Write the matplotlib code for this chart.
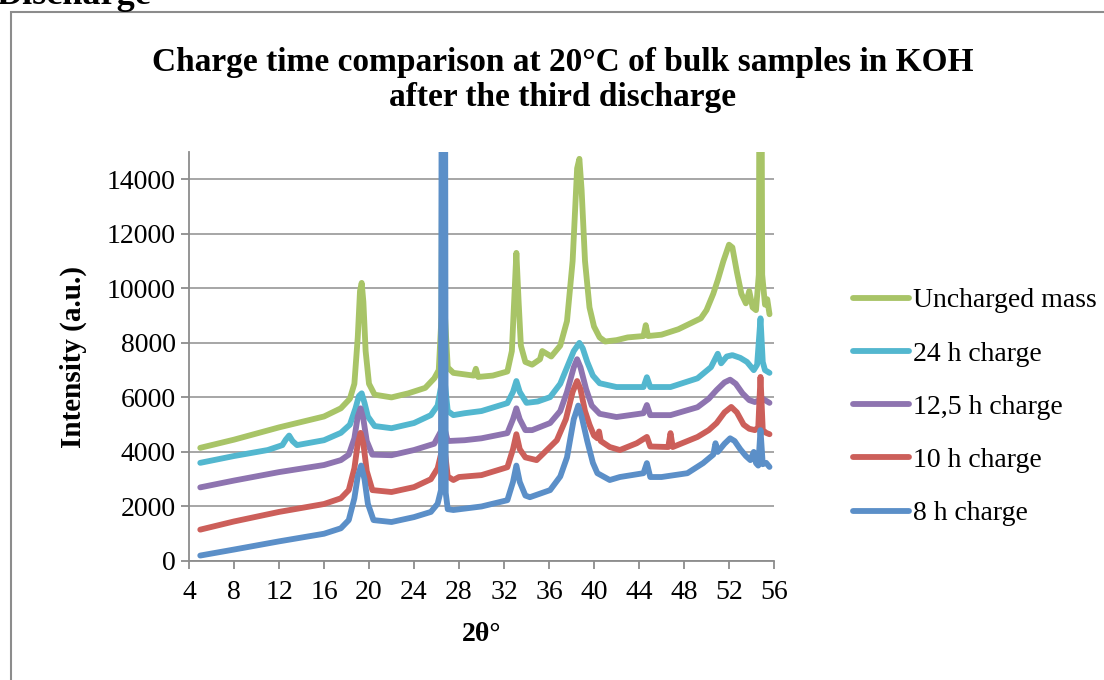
import numpy as np
import matplotlib
matplotlib.use("Agg")
import matplotlib.pyplot as plt
from matplotlib.patches import Rectangle

# 2theta positions / intensities (hand picked points)
x_unch = [5, 8, 12, 16, 17.5, 18.3, 18.7, 19.0, 19.2, 19.35, 19.5, 19.7, 20.0, 20.5, 22, 23.5, 25, 25.8, 26.2, 26.45, 26.6, 26.75, 27.0, 27.5, 29.3, 29.5, 29.7, 31, 32.3, 32.7, 32.9, 33.1, 33.3, 33.5, 33.9, 34.5, 35.2, 35.4, 36.2, 37.0, 37.6, 38.1, 38.5, 38.7, 38.9, 39.2, 39.6, 40.0, 40.5, 41, 42, 43, 44.4, 44.6, 44.8, 46, 47.5, 48.5, 49.5, 50.0, 50.6, 51.0, 51.5, 52.0, 52.3, 52.7, 53.1, 53.5, 53.8, 54.1, 54.4, 54.65, 54.8, 54.95, 55.2, 55.4, 55.6]
y_unch = [4150, 4450, 4900, 5300, 5600, 5950, 6500, 8200, 9900, 10200, 9500, 7700, 6500, 6100, 6000, 6150, 6350, 6700, 7000, 9000, 30000, 9000, 7100, 6900, 6800, 7050, 6750, 6800, 6950, 7700, 9500, 11300, 9500, 7900, 7300, 7200, 7400, 7700, 7500, 7900, 8800, 11000, 14400, 14750, 13600, 11000, 9300, 8600, 8200, 8050, 8100, 8200, 8250, 8650, 8250, 8300, 8500, 8700, 8900, 9200, 9800, 10300, 11000, 11600, 11500, 10600, 9800, 9450, 9900, 9300, 9200, 10500, 30000, 10500, 9400, 9600, 9050]

x_24h = [5, 8, 11, 12.3, 12.6, 12.9, 13.2, 13.6, 16, 17.5, 18.3, 18.8, 19.1, 19.35, 19.6, 19.9, 20.5, 22, 24, 25.5, 26.1, 26.45, 26.6, 26.75, 27.0, 27.5, 28.5, 30, 32.3, 32.8, 33.1, 33.4, 34.0, 35, 36.1, 37.0, 37.6, 38.2, 38.7, 39.0, 39.4, 39.9, 40.5, 42, 44.4, 44.7, 45.0, 46.8, 49.2, 50.4, 51.0, 51.3, 51.8, 52.3, 53, 53.6, 54.2, 54.5, 54.8, 55.0, 55.2, 55.6]
y_24h = [3600, 3850, 4070, 4250, 4450, 4600, 4400, 4250, 4430, 4700, 5000, 5600, 6050, 6150, 5800, 5300, 4950, 4870, 5060, 5350, 5700, 6500, 30000, 6500, 5500, 5350, 5420, 5500, 5790, 6200, 6600, 6200, 5800, 5850, 6010, 6500, 7100, 7700, 8000, 7800, 7300, 6800, 6520, 6380, 6380, 6740, 6380, 6380, 6700, 7110, 7600, 7250, 7500, 7550, 7450, 7300, 7000, 7200, 8900, 7300, 7000, 6900]

x_125h = [5, 8, 12, 16, 17.5, 18.2, 18.7, 19.0, 19.25, 19.5, 19.8, 20.3, 22, 24, 25.8, 26.45, 26.6, 26.75, 27.0, 28.5, 30, 32.3, 32.8, 33.1, 33.4, 33.9, 34.5, 36.1, 37.0, 37.6, 38.2, 38.5, 38.8, 39.3, 39.8, 40.5, 42.0, 44.4, 44.7, 45.0, 46.8, 49.2, 50.2, 50.9, 51.6, 52.1, 52.6, 53.2, 53.8, 54.3, 55.0, 55.6]
y_125h = [2700, 2950, 3260, 3520, 3700, 3900, 4500, 5300, 5600, 5200, 4400, 3900, 3880, 4070, 4300, 4800, 30000, 4800, 4400, 4430, 4500, 4690, 5200, 5600, 5200, 4800, 4800, 5060, 5500, 6200, 7100, 7400, 7100, 6300, 5700, 5400, 5280, 5420, 5720, 5350, 5350, 5640, 5950, 6270, 6550, 6650, 6500, 6150, 5900, 5830, 5950, 5800]

x_10h = [5, 8, 12, 16, 17.5, 18.2, 18.7, 19.0, 19.25, 19.5, 19.8, 20.3, 22, 24, 25.5, 26.1, 26.45, 26.6, 26.75, 27.0, 27.5, 28, 30, 32.3, 32.8, 33.1, 33.4, 33.9, 34.9, 36.7, 37.5, 38.1, 38.5, 38.8, 39.2, 39.6, 40.0, 40.3, 40.45, 40.6, 41.4, 42.3, 43.8, 44.7, 45.0, 46.6, 46.8, 47.0, 49.2, 50.2, 50.9, 51.6, 52.2, 52.7, 53.3, 53.8, 54.3, 54.6, 54.8, 55.0, 55.3, 55.6]
y_10h = [1150, 1450, 1800, 2090, 2300, 2600, 3400, 4300, 4700, 4300, 3300, 2600, 2530, 2710, 3000, 3400, 4000, 30000, 4000, 3100, 2970, 3080, 3150, 3440, 4100, 4650, 4100, 3800, 3700, 4430, 5200, 6200, 6600, 6300, 5500, 5000, 4600, 4500, 4750, 4400, 4180, 4070, 4320, 4550, 4200, 4180, 4690, 4180, 4550, 4800, 5060, 5450, 5650, 5450, 5000, 4850, 4800, 4900, 6750, 4800, 4700, 4650]

x_8h = [5, 8, 12, 16, 17.5, 18.2, 18.7, 19.0, 19.3, 19.6, 19.9, 20.4, 22, 24, 25.5, 26.1, 26.4, 26.5, 26.72, 26.82, 27.0, 27.5, 30, 32.3, 32.8, 33.1, 33.4, 33.9, 34.3, 36.1, 37.0, 37.6, 38.2, 38.6, 38.9, 39.4, 39.9, 40.3, 41.4, 42.3, 44.4, 44.7, 45.0, 46, 48.3, 49.7, 50.6, 50.8, 51.0, 51.6, 52.1, 52.5, 53.0, 53.5, 53.9, 54.2, 54.4, 54.6, 54.8, 55.0, 55.3, 55.6]
y_8h = [200, 420, 720, 1000, 1200, 1500, 2300, 3100, 3500, 3000, 2100, 1500, 1430, 1610, 1800, 2100, 2600, 30000, 30000, 2500, 1900, 1870, 2000, 2230, 2900, 3500, 2900, 2400, 2340, 2600, 3100, 3800, 5200, 5700, 5300, 4400, 3600, 3220, 2970, 3080, 3220, 3590, 3080, 3080, 3220, 3590, 3900, 4320, 4000, 4300, 4500, 4400, 4100, 3850, 3700, 4000, 3590, 3500, 4800, 3550, 3600, 3450]

labels = ["Uncharged mass", "24 h charge", "12,5 h charge", "10 h charge", "8 h charge"]
colors = ["#a8c467", "#53b7cf", "#8e74b0", "#cc5f5a", "#5b8fc8"]
xticks = list(range(4, 57, 4))
yticks = list(range(0, 14001, 2000))

serif = ["Liberation Serif", "DejaVu Serif"]
plt.rcParams["font.family"] = serif

fig = plt.figure(figsize=(11.04, 6.8), dpi=100)
ax = fig.add_axes([189 / 1104, 1 - 561 / 680, (774 - 189) / 1104, (561 - 152) / 680])

series = [(x_unch, y_unch), (x_24h, y_24h), (x_125h, y_125h), (x_10h, y_10h), (x_8h, y_8h)]
handles = []
for (xs, ys), lab, c in zip(series, labels, colors):
    h, = ax.plot(xs, ys, color=c, lw=4.2, solid_capstyle="round", solid_joinstyle="round", label=lab)
    handles.append(h)

ax.set_xlim(4, 56)
ax.set_ylim(0, 15000)
ax.set_xticks(xticks)
ax.set_yticks(yticks)
ax.tick_params(axis="both", labelsize=20, colors="#8c8c8c", labelcolor="black", length=6, width=1.3)
ax.tick_params(axis="x", pad=8)
ax.grid(axis="y", color="#a6a6a6", lw=1.4)
ax.set_axisbelow(True)
for s in ["top", "right"]:
    ax.spines[s].set_visible(False)
for s in ["left", "bottom"]:
    ax.spines[s].set_color("#8c8c8c")
    ax.spines[s].set_linewidth(1.3)

ax.set_xlabel("2θ°", fontsize=20, fontweight="bold", labelpad=12)
ax.set_ylabel("Intensity (a.u.)", fontsize=21, fontweight="bold", labelpad=14)

fig.text(563 / 1104, 1 - 80 / 680, "Charge time comparison at 20°C of bulk samples in KOH\nafter the third discharge",
         ha="center", va="center", fontsize=24, fontweight="bold", linespacing=1.15)

fig.legend(handles=handles, loc="upper left", bbox_to_anchor=(828 / 1104, 1 - 263 / 680), frameon=False,
           fontsize=20, handlelength=2.0, handletextpad=0.15, labelspacing=1.0)

# page frame and the clipped heading above it
fig.patches.append(Rectangle((11 / 1104, -0.05), 1.2, 1 - 12 / 680 + 0.05, transform=fig.transFigure,
                             fill=False, edgecolor="#8c8c8c", lw=1.5))
fig.text(-0.003, 1 - 4 / 680, "Discharge", ha="left", va="baseline", fontsize=26, fontweight="bold")

fig.savefig("out.png", dpi=100)
